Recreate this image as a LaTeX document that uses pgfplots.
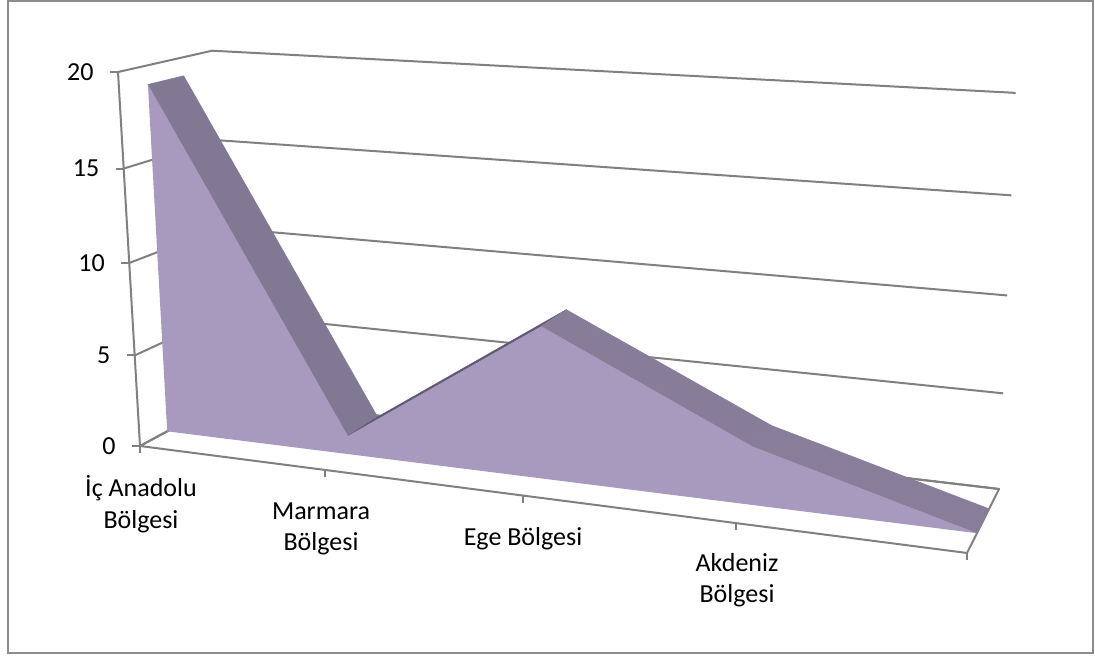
\documentclass[border=0pt]{standalone}
\usepackage{fontspec}
\setmainfont{Carlito}
\usepackage{pgfplots}
\usepackage{pgfplotstable}
\pgfplotsset{compat=1.18}
\definecolor{frontc}{RGB}{168,154,190}
\definecolor{sa}{RGB}{129,121,148}
\definecolor{sb}{RGB}{96,89,116}
\definecolor{sc}{RGB}{136,125,153}
\definecolor{sd}{RGB}{137,126,154}
\definecolor{gridc}{RGB}{128,128,128}
\definecolor{borderc}{RGB}{140,140,140}

% values (front face outline: data, then back to the base at the first category)
\pgfplotstableread{
X V
0 19
1 1
2 8
3 3
4 0
0 0
}\frontpoly

% top strip of the 3D area, one quad per segment
\pgfplotstableread{
X Y V
0 0.29 19
1 0.29 1
1 0.67 1
0 0.67 19
}\segA
\pgfplotstableread{
X Y V
1 0.29 1
2 0.29 8
2 0.67 8
1 0.67 1
}\segB
\pgfplotstableread{
X Y V
2 0.29 8
3 0.29 3
3 0.67 3
2 0.67 8
}\segC
\pgfplotstableread{
X Y V
3 0.29 3
4 0.29 0
4 0.67 0
3 0.67 3
}\segD

\pgfplotstableread{
X Y
0 0
0 1
4 1
}\wallpath

\pgfplotstableread{
X Y
0 0
4 0
4 1
0 1
0 0
}\floorpath

\begin{document}
\begin{tikzpicture}
\begin{axis}[
  scale only axis, width=547.5pt, height=329pt,
  xmin=0, xmax=1095, ymin=0, ymax=658, y dir=reverse,
  hide axis, clip=false,
  declare function={
    pw(\x,\y,\z)=1-0.03435*\x+0.07935*\y-0.002094*\z;
    pu(\x,\y,\z)=(173.53*\x+107.0*\y-1.347*\z+140)/pw(\x,\y,\z);
    pv(\x,\y,\z)=(7.75*\x-16.4*\y-18.85*\z+446)/pw(\x,\y,\z);
  },
  gridline/.style={draw=gridc, line width=1pt, mark=none},
  every axis plot/.append style={line join=round},
]
% side and back wall gridlines
\pgfplotsinvokeforeach{0,5,10,15,20}{
  \addplot[gridline] table[x expr={pu(\thisrow{X},\thisrow{Y},#1)}, y expr={pv(\thisrow{X},\thisrow{Y},#1)}] {\wallpath};
}
% floor
\addplot[gridline] table[x expr={pu(\thisrow{X},\thisrow{Y},0)}, y expr={pv(\thisrow{X},\thisrow{Y},0)}] {\floorpath};
% vertical axis
\addplot[gridline] table[row sep=\\, x expr={pu(0,0,\thisrow{Z})}, y expr={pv(0,0,\thisrow{Z})}] {Z\\0\\20\\};
% vertical axis ticks
\pgfplotsinvokeforeach{0,5,10,15,20}{
  \addplot[gridline] table[row sep=\\, x expr={pu(0,0,#1)+\thisrow{d}}, y expr={pv(0,0,#1)}] {d\\-8\\0\\};
}
% category ticks
\pgfplotsinvokeforeach{0,1,2,3,4}{
  \addplot[gridline] table[row sep=\\, x expr={pu(#1,0,0)}, y expr={pv(#1,0,0)+\thisrow{d}}] {d\\0\\7\\};
}
% vertical axis labels
\addplot[draw=none, mark=none, nodes near coords, point meta=explicit symbolic,
  nodes near coords style={anchor=east, inner sep=0pt, font=\fontsize{13}{15}\selectfont}]
  table[row sep=\\, x expr={pu(0,0,\thisrow{Z})-24}, y expr={pv(0,0,\thisrow{Z})}, meta=Z] {Z\\0\\5\\10\\15\\20\\};

% area: top strip
\addplot[fill=sa, draw=sa, line width=0.3pt] table[x expr={pu(\thisrow{X},\thisrow{Y},\thisrow{V})}, y expr={pv(\thisrow{X},\thisrow{Y},\thisrow{V})}] {\segA} -- cycle;
\addplot[fill=sb, draw=sb, line width=0.3pt] table[x expr={pu(\thisrow{X},\thisrow{Y},\thisrow{V})}, y expr={pv(\thisrow{X},\thisrow{Y},\thisrow{V})}] {\segB} -- cycle;
\addplot[fill=sc, draw=sc, line width=0.3pt] table[x expr={pu(\thisrow{X},\thisrow{Y},\thisrow{V})}, y expr={pv(\thisrow{X},\thisrow{Y},\thisrow{V})}] {\segC} -- cycle;
\addplot[fill=sd, draw=sd, line width=0.3pt] table[x expr={pu(\thisrow{X},\thisrow{Y},\thisrow{V})}, y expr={pv(\thisrow{X},\thisrow{Y},\thisrow{V})}] {\segD} -- cycle;
% area: front face
\addplot[fill=frontc, draw=none] table[x expr={pu(\thisrow{X},0.29,\thisrow{V})}, y expr={pv(\thisrow{X},0.29,\thisrow{V})}] {\frontpoly} -- cycle;

% category labels
\begin{scope}[every node/.style={font=\fontsize{13}{15}\selectfont, inner sep=0pt, anchor=base}]
\node at (axis cs:141,496) {İç Anadolu};
\node at (axis cs:141,528) {Bölgesi};
\node at (axis cs:321,519) {Marmara};
\node at (axis cs:321,550) {Bölgesi};
\node at (axis cs:523,545) {Ege Bölgesi};
\node at (axis cs:737,571) {Akdeniz};
\node at (axis cs:737,602) {Bölgesi};
\end{scope}

% chart border and page extent
\draw[borderc, line width=1pt] (axis cs:8,1) rectangle (axis cs:1093,653);
\path (axis cs:0,0) rectangle (axis cs:1095,658);
\end{axis}
\end{tikzpicture}
\end{document}
